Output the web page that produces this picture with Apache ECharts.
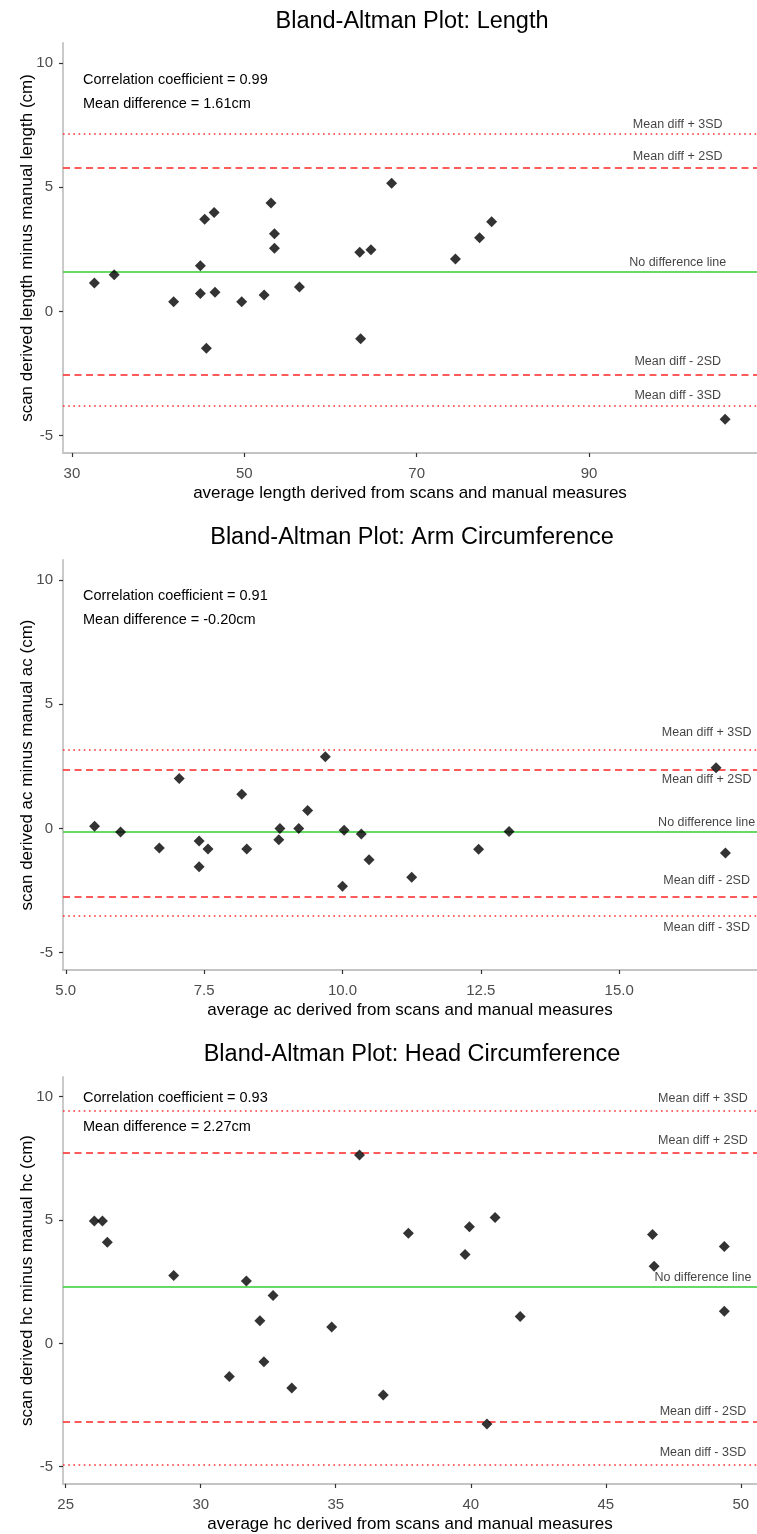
<!DOCTYPE html>
<html>
<head>
<meta charset="utf-8">
<script src="https://cdn.jsdelivr.net/npm/echarts@6/dist/echarts.min.js"></script>
<style>
html,body{margin:0;padding:0;background:#fff;}
#c{width:757px;height:1534px;}
</style>
</head>
<body>
<div id="c"></div>
<script>
// ---------- data ----------
const lengthX = [32.6,34.9,41.8,44.9,44.9,45.4,45.6,46.5,46.6,49.7,52.3,53.1,53.5,53.5,56.4,63.4,63.5,64.7,67.1,74.5,77.3,78.7,105.8];
const lengthY = [1.14,1.47,0.39,1.84,0.72,3.71,-1.48,3.98,0.77,0.39,0.66,4.36,3.12,2.54,0.98,2.38,-1.10,2.48,5.16,2.11,2.96,3.61,-4.34];

const acX = [5.52,5.99,6.69,7.05,7.41,7.41,7.57,8.18,8.27,8.85,8.87,9.21,9.37,9.69,10.0,10.03,10.34,10.48,11.25,12.46,13.01,16.75,16.92];
const acY = [0.09,-0.15,-0.79,2.01,-0.51,-1.54,-0.83,1.37,-0.83,-0.46,-0.01,-0.01,0.72,2.88,-2.33,-0.08,-0.23,-1.26,-1.97,-0.84,-0.13,2.44,-0.99];

const hcX = [26.06,26.36,26.54,29.0,31.06,31.69,32.19,32.34,32.68,33.37,34.85,35.88,36.76,37.69,39.79,39.95,40.60,40.90,41.83,46.73,46.79,49.39,49.39];
const hcY = [4.96,4.96,4.10,2.75,-1.34,2.53,0.92,-0.74,1.94,-1.81,0.66,7.64,-2.09,4.47,3.60,4.73,-3.27,5.10,1.09,4.41,3.13,3.93,1.30];

// reference lines: [mean, +2SD, +3SD, -2SD, -3SD]
const lengthLines = [1.60, 5.79, 7.13, -2.54, -3.81];
const acLines = [-0.15, 2.37, 3.18, -2.75, -3.50];
const hcLines = [2.30, 7.73, 9.45, -3.18, -4.92];

// line label texts: [no diff, +2SD, +3SD, -2SD, -3SD]
const lineLabelTexts = ['No difference line', 'Mean diff + 2SD', 'Mean diff + 3SD', 'Mean diff - 2SD', 'Mean diff - 3SD'];
const lengthLabelY = [1.96, 6.22, 7.50, -2.03, -3.38];
const acLabelY = [0.25, 1.97, 3.86, -2.10, -3.98];
const hcLabelY = [2.65, 8.21, 9.92, -2.77, -4.42];
const lengthLabelX = 100.3;
const acLabelX = 16.58;
const hcLabelX = 48.6;

const titles = ['Bland-Altman Plot: Length', 'Bland-Altman Plot: Arm Circumference', 'Bland-Altman Plot: Head Circumference'];
const corrTexts = ['Correlation coefficient = 0.99', 'Correlation coefficient = 0.91', 'Correlation coefficient = 0.93'];
const meanTexts = ['Mean difference = 1.61cm', 'Mean difference = -0.20cm', 'Mean difference = 2.27cm'];
const xTitles = ['average length derived from scans and manual measures', 'average ac derived from scans and manual measures', 'average hc derived from scans and manual measures'];
const yTitles = ['scan derived length minus manual length (cm)', 'scan derived ac minus manual ac (cm)', 'scan derived hc minus manual hc (cm)'];

const lengthTicks = [30, 50, 70, 90];
const acTicks = [5, 7.5, 10, 12.5, 15];
const hcTicks = [25, 30, 35, 40, 45, 50];
const yTicks = [-5, 0, 5, 10];

// ---------- build ----------
const FONT = '"Liberation Sans", Arial, sans-serif';
const panels = [
  {x: lengthX, y: lengthY, lines: lengthLines, ly: lengthLabelY, lx: lengthLabelX, ticks: lengthTicks, xmin: 28.96, xmax: 109.5, fmt: v => String(v), top: 43},
  {x: acX, y: acY, lines: acLines, ly: acLabelY, lx: acLabelX, ticks: acTicks, xmin: 4.95, xmax: 17.49, fmt: v => Number(v).toFixed(1), top: 560},
  {x: hcX, y: hcY, lines: hcLines, ly: hcLabelY, lx: hcLabelX, ticks: hcTicks, xmin: 24.9, xmax: 50.6, fmt: v => String(v), top: 1077}
];
const GRID_H = 410;
const titleY = [22, 538, 1055];
const corrY = [80, 596, 1098];
const meanY = [104, 620, 1127];

const grid = [], xAxis = [], yAxis = [], series = [], graphic = [];
panels.forEach((p, i) => {
  grid.push({left: 63, right: -5, top: p.top, height: GRID_H});
  xAxis.push({
    type: 'value', gridIndex: i, min: p.xmin, max: p.xmax,
    name: xTitles[i], nameLocation: 'middle', nameGap: 32, nameMoveOverlap: false,
    nameTextStyle: {fontFamily: FONT, fontSize: 17, color: '#000'},
    splitLine: {show: false},
    axisLine: {show: true, onZero: false, lineStyle: {color: '#c4c4c4', width: 1.8}},
    axisTick: {show: true, inside: false, length: 4, customValues: p.ticks, lineStyle: {color: '#333', width: 1.2}},
    axisLabel: {customValues: p.ticks, formatter: p.fmt, fontFamily: FONT, fontSize: 15, color: '#4d4d4d', margin: 13}
  });
  yAxis.push({
    type: 'value', gridIndex: i, min: -5.7, max: 10.8,
    name: yTitles[i], nameLocation: 'middle', nameGap: 27, nameMoveOverlap: false,
    nameTextStyle: {fontFamily: FONT, fontSize: 17, color: '#000'},
    splitLine: {show: false},
    axisLine: {show: true, onZero: false, lineStyle: {color: '#c4c4c4', width: 1.8}},
    axisTick: {show: true, inside: false, length: 4, customValues: yTicks, lineStyle: {color: '#333', width: 1.2}},
    axisLabel: {customValues: yTicks, fontFamily: FONT, fontSize: 15, color: '#4d4d4d', margin: 10}
  });
  const lineStyles = [
    {color: '#33cc33', width: 1.7, type: 'solid'},
    {color: '#ff2626', width: 1.7, type: [7, 4.5]},
    {color: '#ff3030', width: 1.6, type: [1.6, 3.6]},
    {color: '#ff2626', width: 1.7, type: [7, 4.5]},
    {color: '#ff3030', width: 1.6, type: [1.6, 3.6]}
  ];
  series.push({
    type: 'scatter', xAxisIndex: i, yAxisIndex: i,
    data: [], silent: true, z: 1,
    markLine: {
      silent: true, symbol: ['none', 'none'], label: {show: false},
      data: p.lines.map((v, k) => ({yAxis: v, lineStyle: lineStyles[k]}))
    }
  });
  series.push({
    type: 'scatter', xAxisIndex: i, yAxisIndex: i, z: 5,
    symbol: 'diamond', symbolSize: [11, 11],
    itemStyle: {color: '#000'},
    data: p.x.map((xv, k) => [xv, p.y[k]])
  });
  series.push({
    type: 'scatter', xAxisIndex: i, yAxisIndex: i, z: 6, silent: true,
    symbolSize: 0,
    label: {show: true, position: 'inside', formatter: d => d.name, fontFamily: FONT, fontSize: 12.5, color: '#111'},
    data: lineLabelTexts.map((t, k) => ({name: t, value: [p.lx, p.ly[k]]}))
  });
  graphic.push({type: 'text', x: 412, y: titleY[i], style: {text: titles[i], font: '23.5px ' + FONT, fill: '#000', textAlign: 'center', textVerticalAlign: 'middle'}});
  graphic.push({type: 'text', x: 83, y: corrY[i], style: {text: corrTexts[i], font: '14.5px ' + FONT, fill: '#000', textAlign: 'left', textVerticalAlign: 'middle'}});
  graphic.push({type: 'text', x: 83, y: meanY[i], style: {text: meanTexts[i], font: '14.5px ' + FONT, fill: '#000', textAlign: 'left', textVerticalAlign: 'middle'}});
});

const chart = echarts.init(document.getElementById('c'), null, {renderer: 'canvas'});
chart.setOption({
  backgroundColor: '#fff',
  animation: false,
  grid, xAxis, yAxis, series, graphic
});
</script>
</body>
</html>
